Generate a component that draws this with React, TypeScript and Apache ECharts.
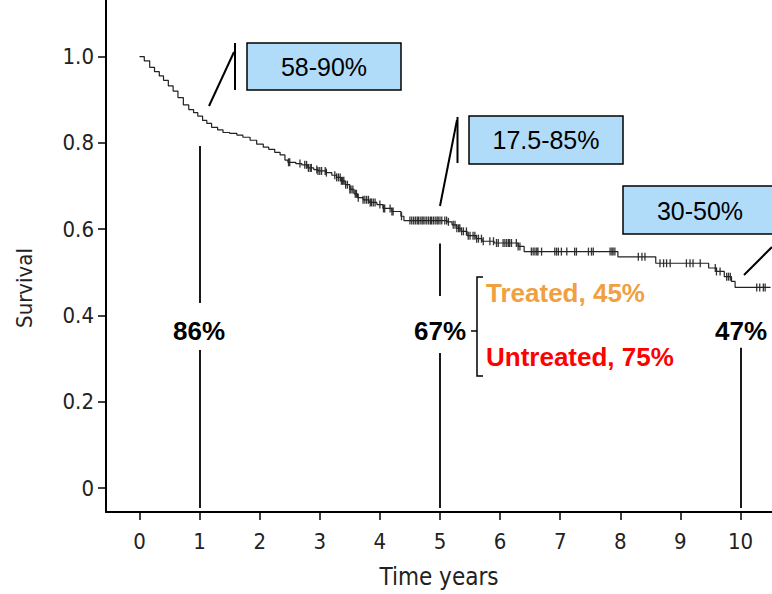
import React, { useEffect, useRef } from 'react';
import * as echarts from 'echarts';

// Kaplan-Meier curve (time in years, survival)
const times = [
  0, 0.08, 0.17, 0.25, 0.33, 0.40, 0.48, 0.56, 0.64, 0.73, 0.82, 0.90, 0.97,
  1.05, 1.12, 1.20, 1.30, 1.39, 1.50, 1.62, 1.72, 1.84, 1.95, 2.06, 2.15, 2.25,
  2.34, 2.42, 2.47, 2.60, 2.70, 2.80, 2.90, 2.97, 3.10, 3.20, 3.28, 3.35, 3.42,
  3.50, 3.57, 3.63, 3.72, 3.82, 3.95, 4.05, 4.20, 4.35, 4.40, 5.12, 5.20, 5.28,
  5.35, 5.45, 5.60, 5.70, 5.90, 6.30, 6.40, 7.96, 8.59, 9.47, 9.60, 9.73, 9.85,
  9.91, 10.50,
];
const survival = [
  1.0, 0.99, 0.975, 0.965, 0.955, 0.945, 0.932, 0.92, 0.905, 0.888, 0.877, 0.87, 0.862,
  0.852, 0.845, 0.836, 0.83, 0.824, 0.822, 0.818, 0.813, 0.806, 0.797, 0.79, 0.785, 0.778,
  0.772, 0.76, 0.755, 0.752, 0.749, 0.742, 0.738, 0.735, 0.731, 0.725, 0.72, 0.712, 0.703,
  0.692, 0.682, 0.673, 0.668, 0.662, 0.657, 0.648, 0.641, 0.63, 0.62, 0.617, 0.61, 0.602,
  0.595, 0.585, 0.578, 0.572, 0.568, 0.56, 0.548, 0.536, 0.521, 0.51, 0.502, 0.49, 0.479,
  0.465, 0.465,
];
// censoring marks (years)
const censorTimes = [
  2.48, 2.50, 2.67, 2.75, 2.78, 2.81, 2.84, 2.86, 2.95, 2.97, 3.00, 3.03, 3.09, 3.11,
  3.25, 3.28, 3.31, 3.34, 3.36, 3.38, 3.40, 3.43, 3.46, 3.50, 3.52, 3.55, 3.59, 3.61,
  3.64, 3.72, 3.75, 3.78, 3.81, 3.84, 3.86, 3.89, 3.92, 4.00, 4.06, 4.08, 4.17, 4.20,
  4.22, 4.36, 4.50, 4.53, 4.56, 4.59, 4.62, 4.64, 4.67, 4.70, 4.72, 4.75, 4.78, 4.81,
  4.84, 4.86, 4.89, 4.92, 4.95, 4.97, 5.00, 5.03, 5.08, 5.11, 5.14, 5.22, 5.25, 5.28,
  5.31, 5.33, 5.36, 5.39, 5.44, 5.47, 5.50, 5.55, 5.58, 5.61, 5.64, 5.69, 5.72, 5.83,
  5.89, 5.94, 5.97, 6.05, 6.08, 6.11, 6.14, 6.16, 6.19, 6.27, 6.30, 6.33, 6.52, 6.55,
  6.58, 6.61, 6.63, 6.69, 6.91, 6.94, 6.97, 7.02, 7.11, 7.24, 7.27, 7.47, 7.52, 7.55,
  7.83, 7.86, 7.88, 7.91, 8.30, 8.36, 8.41, 8.66, 8.72, 8.77, 8.83, 9.10, 9.16, 9.21,
  9.33, 9.58, 9.60, 9.66, 9.77, 9.80, 9.83, 10.27, 10.32, 10.38, 10.41,
];

const xTickValues = [0, 1, 2, 3, 4, 5, 6, 7, 8, 9, 10];
const yTickValues = [0, 0.2, 0.4, 0.6, 0.8, 1.0];
const markYears = [1, 5, 10];
const markLabels = ['86%', '67%', '47%'];
const rangeLabels = ['58-90%', '17.5-85%', '30-50%'];
const subgroupLabels = ['Treated, 45%', 'Untreated, 75%'];

function survivalAt(t: number): number {
  let v = survival[0];
  for (let i = 0; i < times.length; i++) {
    if (times[i] <= t) v = survival[i];
    else break;
  }
  return v;
}

const AXIS_FONT = "'DejaVu Sans Condensed', 'DejaVu Sans', sans-serif";
const ANN_FONT = "'Liberation Sans', Arial, sans-serif";
const BOX_FILL = '#b0dcf9';

export default function App() {
  const ref = useRef<HTMLDivElement>(null);

  useEffect(() => {
    if (!ref.current) return;
    const chart = echarts.init(ref.current, null, { renderer: 'svg' });

    const boxText = (text: string, x: number, y: number) => ({
      type: 'text',
      x,
      y,
      style: {
        text,
        fill: '#000',
        font: `25px ${ANN_FONT}`,
        textAlign: 'center',
        textVerticalAlign: 'middle',
      },
    });
    const line = (x1: number, y1: number, x2: number, y2: number, w = 2) => ({
      type: 'line',
      shape: { x1, y1, x2, y2 },
      style: { stroke: '#000', lineWidth: w },
    });
    const box = (x: number, y: number, width: number, height: number) => ({
      type: 'rect',
      shape: { x, y, width, height },
      style: { fill: BOX_FILL, stroke: '#000', lineWidth: 1.5 },
    });
    const pct = (text: string, x: number, y: number) => ({
      type: 'text',
      x,
      y,
      style: {
        text,
        fill: '#000',
        font: `bold 26px ${ANN_FONT}`,
        textAlign: 'center',
        textVerticalAlign: 'middle',
      },
    });

    const markLineData: any[] = [
      [{ coord: [markYears[0], 0.793] }, { coord: [markYears[0], 0.429] }],
      [{ coord: [markYears[0], 0.32] }, { coord: [markYears[0], -0.046] }],
      [{ coord: [markYears[1], 0.567] }, { coord: [markYears[1], 0.445] }],
      [{ coord: [markYears[1], 0.313] }, { coord: [markYears[1], -0.046] }],
      [{ coord: [markYears[2], 0.325] }, { coord: [markYears[2], -0.046] }],
    ];

    chart.setOption({
      animation: false,
      backgroundColor: '#fff',
      grid: { left: 106, right: 0, top: 0, bottom: 79, containLabel: false },
      xAxis: {
        type: 'value',
        min: -0.557,
        max: 10.524,
        splitLine: { show: false },
        axisLine: { show: true, onZero: false, lineStyle: { color: '#000', width: 2 } },
        axisTick: { show: true, customValues: xTickValues, length: 8, lineStyle: { color: '#000', width: 1.5 } },
        axisLabel: {
          customValues: xTickValues,
          fontSize: 22,
          color: '#222',
          fontFamily: AXIS_FONT,
          margin: 18,
        },
        name: 'Time years',
        nameLocation: 'middle',
        nameGap: 53,
        nameTextStyle: { fontSize: 24, color: '#222', fontFamily: AXIS_FONT },
      },
      yAxis: {
        type: 'value',
        min: -0.0553,
        max: 1.131,
        splitLine: { show: false },
        axisLine: { show: true, onZero: false, lineStyle: { color: '#000', width: 2 } },
        axisTick: { show: true, customValues: yTickValues, length: 8, lineStyle: { color: '#000', width: 1.5 } },
        axisLabel: {
          customValues: yTickValues,
          fontSize: 22,
          color: '#222',
          fontFamily: AXIS_FONT,
          margin: 12,
          formatter: (v: number) => (v === 0 ? '0' : v.toFixed(1)),
        },
      },
      series: [
        {
          type: 'line',
          step: 'end',
          showSymbol: false,
          silent: true,
          data: times.map((t, i) => [t, survival[i]]),
          lineStyle: { color: '#222', width: 1.2 },
          markLine: {
            silent: true,
            symbol: ['none', 'none'],
            label: { show: false },
            lineStyle: { color: '#000', width: 1.8, type: 'solid' },
            data: markLineData,
          },
        },
        {
          type: 'scatter',
          silent: true,
          symbol: 'rect',
          symbolSize: [1.3, 8],
          itemStyle: { color: '#000' },
          data: censorTimes.map((t) => [t, survivalAt(t)]),
        },
      ],
      graphic: [
        {
          type: 'text',
          x: 24,
          y: 288,
          rotation: Math.PI / 2,
          style: {
            text: 'Survival',
            fill: '#222',
            font: `22px ${AXIS_FONT}`,
            textAlign: 'center',
            textVerticalAlign: 'middle',
          },
        },
        // range boxes with leader lines
        line(209, 106, 234, 52),
        line(235, 43, 235, 90),
        box(247, 43, 154, 47),
        boxText(rangeLabels[0], 324, 67),
        line(440, 206, 457, 120),
        line(457.5, 117, 457.5, 163),
        box(469, 116, 154, 48),
        boxText(rangeLabels[1], 546, 140),
        box(623, 186, 160, 48),
        boxText(rangeLabels[2], 700, 211),
        line(744, 275, 772, 247),
        // survival percentages
        pct(markLabels[0], 199, 331),
        pct(markLabels[1], 440, 331),
        pct(markLabels[2], 741, 331),
        // bracket
        {
          type: 'polyline',
          shape: { points: [[483, 277], [477, 277], [477, 376], [483, 376]] },
          style: { stroke: '#000', lineWidth: 1.5, fill: 'none' },
        },
        line(471, 331, 477, 331, 1.5),
        {
          type: 'text',
          x: 486,
          y: 293,
          style: {
            text: subgroupLabels[0],
            fill: '#f0a040',
            font: `bold 26px ${ANN_FONT}`,
            textAlign: 'left',
            textVerticalAlign: 'middle',
          },
        },
        {
          type: 'text',
          x: 486,
          y: 357,
          style: {
            text: subgroupLabels[1],
            fill: '#ff0000',
            font: `bold 26px ${ANN_FONT}`,
            textAlign: 'left',
            textVerticalAlign: 'middle',
          },
        },
      ],
    });

    return () => chart.dispose();
  }, []);

  return (
    <div
      ref={ref}
      style={{ position: 'fixed', left: 0, top: 0, width: 772, height: 594 }}
    />
  );
}
